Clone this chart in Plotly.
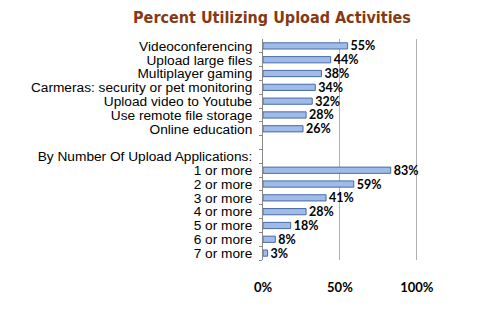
import plotly.graph_objects as go

categories = ["Videoconferencing", "Upload large files", "Multiplayer gaming",
              "Carmeras: security or pet monitoring", "Upload video to Youtube",
              "Use remote file storage", "Online education", " ",
              "By Number Of Upload Applications:",
              "1 or more", "2 or more", "3 or more", "4 or more",
              "5 or more", "6 or more", "7 or more"]
values = [55, 44, 38, 34, 32, 28, 26, None, None, 83, 59, 41, 28, 18, 8, 3]
x_ticks = [0, 50, 100]
x_ticktext = ["0%", "50%", "100%"]
title = "Percent Utilizing Upload Activities"

labels = [f"{v}%" if v is not None else "" for v in values]

fig = go.Figure(go.Bar(
    x=values, y=categories, orientation="h",
    marker=dict(color="#9fbbe8", line=dict(color="#4a6aa8", width=1)),
    text=labels, textposition="outside", cliponaxis=False, constraintext="none",
    textfont=dict(family="Lato", size=12.5, color="#000000", weight="bold"),
))

fig.update_layout(
    width=500, height=313,
    margin=dict(l=263, r=77, t=39, b=53),
    plot_bgcolor="white", paper_bgcolor="white",
    bargap=0.55,
    showlegend=False,
    title=dict(text=title, x=0.544, xanchor="center", y=0.945, yanchor="middle",
               font=dict(family="DejaVu Sans Condensed", size=16, color="#853a13", weight="bold")),
    xaxis=dict(range=[0, 104], tickvals=x_ticks, ticktext=x_ticktext,
               showgrid=True, gridcolor="#b0b0b0", gridwidth=1,
               zeroline=False, showline=False, ticks="",
               ticklabelstandoff=18,
               tickfont=dict(family="Lato", size=13, color="#000000", weight="bold")),
    yaxis=dict(categoryorder="array", categoryarray=categories[::-1],
               tickmode="array", tickvals=categories, ticktext=categories,
               showline=True, linecolor="#888888", linewidth=1,
               ticks="outside", ticklen=3, tickcolor="#888888", tickson="boundaries",
               ticklabelstandoff=7, showgrid=False,
               tickfont=dict(family="Liberation Sans", size=13.7, color="#000000")),
)

fig.write_html("out.html")
